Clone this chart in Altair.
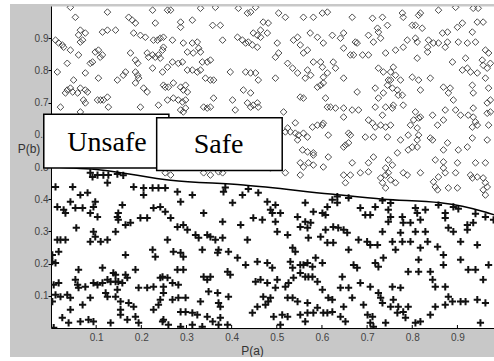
import altair as alt
import pandas as pd

# Open diamonds (upper region) as (P(a), P(b)) pairs
diamond_pts = [
    (0.043, 0.996), (0.054, 0.965), (0.125, 0.981), (0.172, 0.965), (0.180, 0.956), (0.187, 0.947),
    (0.225, 0.987), (0.231, 0.947), (0.258, 0.987), (0.065, 0.925), (0.061, 0.910), (0.076, 0.916),
    (0.070, 0.894), (0.065, 0.888), (0.114, 0.919), (0.125, 0.925), (0.143, 0.925), (0.183, 0.916),
    (0.198, 0.909), (0.209, 0.903), (0.227, 0.894), (0.236, 0.894), (0.242, 0.900), (0.010, 0.894),
    (0.017, 0.885), (0.025, 0.879), (0.028, 0.872), (0.043, 0.863), (0.098, 0.857), (0.105, 0.863),
    (0.061, 0.848), (0.176, 0.854), (0.213, 0.854), (0.216, 0.841), (0.225, 0.848), (0.231, 0.841),
    (0.238, 0.848), (0.242, 0.838), (0.249, 0.872), (0.247, 0.863), (0.036, 0.822), (0.087, 0.822),
    (0.092, 0.826), (0.109, 0.841), (0.114, 0.848), (0.187, 0.832), (0.192, 0.822), (0.225, 0.807),
    (0.247, 0.795), (0.014, 0.795), (0.076, 0.792), (0.050, 0.770), (0.147, 0.770), (0.165, 0.795),
    (0.160, 0.785), (0.187, 0.795), (0.192, 0.785), (0.194, 0.776), (0.187, 0.761), (0.036, 0.739),
    (0.032, 0.730), (0.043, 0.745), (0.048, 0.733), (0.059, 0.730), (0.065, 0.745), (0.076, 0.739),
    (0.081, 0.733), (0.105, 0.776), (0.205, 0.745), (0.213, 0.733), (0.253, 0.748), (0.072, 0.708),
    (0.076, 0.699), (0.103, 0.708), (0.110, 0.708), (0.116, 0.708), (0.125, 0.717), (0.021, 0.686),
    (0.127, 0.686), (0.198, 0.686), (0.238, 0.692), (0.065, 0.671),
    (0.265, 0.987), (0.287, 0.950), (0.287, 0.934), (0.313, 0.956), (0.331, 0.993), (0.358, 0.940),
    (0.375, 0.940), (0.364, 0.996), (0.415, 0.993), (0.435, 0.978), (0.442, 0.981), (0.453, 0.996),
    (0.470, 0.950), (0.481, 0.947), (0.464, 0.925), (0.479, 0.916), (0.504, 0.978), (0.519, 0.965),
    (0.559, 0.965), (0.581, 0.965), (0.601, 0.978), (0.612, 0.981), (0.546, 0.903), (0.574, 0.916),
    (0.590, 0.903), (0.603, 0.885), (0.249, 0.903), (0.269, 0.894), (0.293, 0.885), (0.302, 0.857),
    (0.313, 0.885), (0.324, 0.888), (0.327, 0.869), (0.315, 0.854), (0.331, 0.857), (0.380, 0.894),
    (0.413, 0.903), (0.424, 0.894), (0.431, 0.885), (0.437, 0.888), (0.448, 0.916), (0.457, 0.909),
    (0.464, 0.903), (0.446, 0.879), (0.457, 0.872), (0.501, 0.885), (0.504, 0.854), (0.497, 0.841),
    (0.537, 0.894), (0.552, 0.879), (0.559, 0.854), (0.568, 0.863), (0.597, 0.826), (0.581, 0.826),
    (0.601, 0.810), (0.258, 0.810), (0.269, 0.826), (0.282, 0.822), (0.291, 0.826), (0.302, 0.801),
    (0.313, 0.801), (0.324, 0.795), (0.331, 0.801), (0.335, 0.826), (0.346, 0.826), (0.353, 0.832),
    (0.360, 0.770), (0.397, 0.795), (0.431, 0.795), (0.442, 0.792), (0.453, 0.792), (0.524, 0.822),
    (0.535, 0.807), (0.546, 0.792), (0.563, 0.776), (0.568, 0.801), (0.575, 0.785), (0.603, 0.779),
    (0.612, 0.792), (0.249, 0.754), (0.260, 0.748), (0.271, 0.761), (0.287, 0.748), (0.293, 0.739),
    (0.302, 0.733), (0.298, 0.754), (0.342, 0.776), (0.353, 0.770), (0.426, 0.739), (0.442, 0.730),
    (0.459, 0.770), (0.497, 0.776), (0.552, 0.717), (0.559, 0.714), (0.590, 0.748), (0.597, 0.754),
    (0.603, 0.761), (0.612, 0.686), (0.608, 0.714), (0.258, 0.708), (0.271, 0.714), (0.282, 0.708),
    (0.291, 0.702), (0.298, 0.708), (0.298, 0.683), (0.293, 0.671), (0.287, 0.677), (0.338, 0.686),
    (0.346, 0.683), (0.353, 0.686), (0.360, 0.714), (0.402, 0.708), (0.408, 0.677), (0.435, 0.699),
    (0.442, 0.686), (0.448, 0.692), (0.457, 0.699), (0.459, 0.686), (0.515, 0.671), (0.519, 0.609),
    (0.530, 0.609), (0.541, 0.605), (0.548, 0.599), (0.559, 0.605), (0.568, 0.593), (0.579, 0.624),
    (0.590, 0.630), (0.601, 0.630), (0.546, 0.584), (0.557, 0.553), (0.568, 0.547), (0.581, 0.544),
    (0.541, 0.637), (0.524, 0.621), (0.581, 0.537), (0.570, 0.513), (0.581, 0.506), (0.552, 0.513),
    (0.559, 0.500), (0.603, 0.500), (0.253, 0.482), (0.265, 0.475), (0.338, 0.482), (0.353, 0.475),
    (0.371, 0.485), (0.380, 0.482), (0.486, 0.497), (0.552, 0.475), (0.519, 0.482),
    (0.667, 0.965), (0.712, 0.962), (0.734, 0.965), (0.778, 0.978), (0.780, 0.965), (0.814, 0.971),
    (0.818, 0.978), (0.858, 0.987), (0.896, 0.996), (0.935, 0.993), (0.946, 0.993), (0.944, 0.950),
    (0.957, 0.950), (0.623, 0.909), (0.641, 0.900), (0.648, 0.916), (0.674, 0.888), (0.678, 0.885),
    (0.703, 0.909), (0.714, 0.888), (0.723, 0.931), (0.725, 0.919), (0.730, 0.900), (0.745, 0.940),
    (0.648, 0.869), (0.663, 0.848), (0.670, 0.848), (0.690, 0.848), (0.703, 0.848), (0.741, 0.854),
    (0.763, 0.863), (0.780, 0.872), (0.800, 0.940), (0.807, 0.940), (0.822, 0.931), (0.789, 0.894),
    (0.807, 0.900), (0.811, 0.888), (0.834, 0.872), (0.836, 0.894), (0.847, 0.885), (0.858, 0.885),
    (0.873, 0.872), (0.878, 0.888), (0.867, 0.916), (0.878, 0.919), (0.900, 0.934), (0.911, 0.947),
    (0.933, 0.919), (0.902, 0.888), (0.922, 0.885), (0.940, 0.888), (0.962, 0.863), (0.969, 0.854),
    (0.811, 0.838), (0.834, 0.857), (0.889, 0.826), (0.918, 0.838), (0.955, 0.832), (0.625, 0.826),
    (0.630, 0.807), (0.648, 0.776), (0.678, 0.733), (0.718, 0.745), (0.736, 0.730), (0.725, 0.714),
    (0.745, 0.754), (0.747, 0.770), (0.725, 0.807), (0.736, 0.795), (0.752, 0.795), (0.758, 0.810),
    (0.763, 0.785), (0.752, 0.770), (0.756, 0.745), (0.767, 0.739), (0.769, 0.723), (0.778, 0.723),
    (0.774, 0.770), (0.800, 0.779), (0.814, 0.770), (0.818, 0.739), (0.840, 0.776), (0.869, 0.748),
    (0.884, 0.745), (0.880, 0.730), (0.891, 0.708), (0.911, 0.801), (0.922, 0.807), (0.929, 0.795),
    (0.957, 0.816), (0.966, 0.807), (0.973, 0.822), (0.944, 0.792), (0.962, 0.776), (0.933, 0.754),
    (0.935, 0.730), (0.969, 0.745), (0.966, 0.699), (0.973, 0.708), (0.619, 0.686), (0.630, 0.683),
    (0.648, 0.683), (0.648, 0.655), (0.667, 0.677), (0.681, 0.677), (0.603, 0.636), (0.614, 0.599),
    (0.703, 0.646), (0.712, 0.636), (0.718, 0.624), (0.730, 0.630), (0.741, 0.624), (0.752, 0.630),
    (0.734, 0.661), (0.718, 0.686), (0.741, 0.686), (0.756, 0.683), (0.758, 0.692), (0.780, 0.692),
    (0.807, 0.671), (0.814, 0.652), (0.818, 0.655), (0.803, 0.646), (0.845, 0.661), (0.869, 0.646),
    (0.856, 0.630), (0.796, 0.630), (0.811, 0.621), (0.791, 0.599), (0.873, 0.677), (0.896, 0.677),
    (0.907, 0.661), (0.924, 0.661), (0.935, 0.683), (0.935, 0.655), (0.940, 0.640), (0.933, 0.624),
    (0.944, 0.630), (0.966, 0.667), (0.973, 0.671), (0.969, 0.630), (0.659, 0.605), (0.663, 0.599),
    (0.659, 0.575), (0.648, 0.562), (0.652, 0.568), (0.696, 0.593), (0.714, 0.593), (0.745, 0.593),
    (0.774, 0.584), (0.814, 0.599), (0.811, 0.584), (0.845, 0.584), (0.840, 0.590), (0.878, 0.575),
    (0.869, 0.553), (0.902, 0.553), (0.922, 0.562), (0.933, 0.590), (0.966, 0.584), (0.851, 0.522),
    (0.869, 0.516), (0.900, 0.513), (0.940, 0.513), (0.962, 0.513), (0.614, 0.531), (0.667, 0.513),
    (0.714, 0.531), (0.703, 0.513), (0.747, 0.522), (0.756, 0.506), (0.791, 0.553), (0.800, 0.562),
    (0.811, 0.562), (0.767, 0.544), (0.685, 0.482), (0.703, 0.485), (0.741, 0.497), (0.747, 0.482),
    (0.780, 0.482), (0.818, 0.482), (0.869, 0.497), (0.873, 0.482), (0.896, 0.482), (0.648, 0.475),
    (0.663, 0.475), (0.929, 0.475), (0.944, 0.469), (0.652, 0.451), (0.730, 0.466), (0.734, 0.451),
    (0.741, 0.475), (0.752, 0.460), (0.763, 0.451), (0.789, 0.475), (0.847, 0.454), (0.851, 0.438),
    (0.856, 0.429), (0.858, 0.469), (0.880, 0.435), (0.900, 0.435), (0.933, 0.466), (0.957, 0.466),
    (0.962, 0.451), (0.957, 0.429), (0.962, 0.413), (0.966, 0.438), (0.741, 0.435),
]

# Plus markers (lower region) as (P(a), P(b)) pairs
plus_pts = [
    (0.010, 0.438), (0.048, 0.438), (0.065, 0.413), (0.081, 0.420), (0.087, 0.482), (0.092, 0.469),
    (0.103, 0.475), (0.116, 0.475), (0.127, 0.475), (0.125, 0.451), (0.147, 0.478), (0.160, 0.474),
    (0.183, 0.438), (0.205, 0.435), (0.205, 0.413), (0.225, 0.435), (0.238, 0.435), (0.253, 0.435),
    (0.014, 0.376), (0.028, 0.367), (0.032, 0.357), (0.043, 0.392), (0.054, 0.373), (0.070, 0.373),
    (0.087, 0.357), (0.094, 0.376), (0.098, 0.392), (0.103, 0.345), (0.147, 0.345), (0.149, 0.357),
    (0.158, 0.382), (0.198, 0.342), (0.213, 0.342), (0.176, 0.327), (0.149, 0.336), (0.227, 0.373),
    (0.242, 0.376), (0.253, 0.361), (0.056, 0.311), (0.014, 0.274), (0.021, 0.274), (0.032, 0.274),
    (0.094, 0.299), (0.098, 0.283), (0.087, 0.268), (0.110, 0.268), (0.125, 0.274), (0.143, 0.299),
    (0.165, 0.320), (0.258, 0.274), (0.003, 0.227), (0.017, 0.237), (0.003, 0.206), (0.010, 0.202),
    (0.061, 0.181), (0.114, 0.187), (0.138, 0.171), (0.143, 0.165), (0.165, 0.227), (0.225, 0.243),
    (0.231, 0.221), (0.187, 0.181), (0.006, 0.134), (0.017, 0.140), (0.054, 0.150), (0.059, 0.134),
    (0.061, 0.125), (0.076, 0.128), (0.094, 0.140), (0.103, 0.134), (0.114, 0.140), (0.125, 0.150),
    (0.132, 0.144), (0.143, 0.144), (0.149, 0.144), (0.158, 0.140), (0.165, 0.165), (0.169, 0.156),
    (0.194, 0.125), (0.213, 0.125), (0.227, 0.128), (0.242, 0.156), (0.249, 0.128), (0.010, 0.103),
    (0.021, 0.097), (0.036, 0.103), (0.043, 0.094), (0.070, 0.072), (0.087, 0.094), (0.121, 0.109),
    (0.125, 0.097), (0.143, 0.097), (0.147, 0.119), (0.172, 0.078), (0.154, 0.082), (0.183, 0.066),
    (0.242, 0.088), (0.238, 0.072), (0.227, 0.057), (0.003, 0.082), (0.025, 0.032), (0.039, 0.016),
    (0.065, 0.020), (0.083, 0.026), (0.094, 0.020), (0.132, 0.016), (0.154, 0.041), (0.154, 0.057),
    (0.169, 0.026), (0.187, 0.035), (0.194, 0.016), (0.247, 0.020), (0.006, 0.001), (0.043, 0.057),
    (0.280, 0.423), (0.313, 0.413), (0.287, 0.392), (0.338, 0.357), (0.382, 0.423), (0.386, 0.436),
    (0.424, 0.413), (0.437, 0.432), (0.459, 0.420), (0.479, 0.392), (0.486, 0.367), (0.490, 0.357),
    (0.497, 0.382), (0.402, 0.389), (0.380, 0.330), (0.420, 0.320), (0.448, 0.342), (0.468, 0.336),
    (0.497, 0.330), (0.508, 0.357), (0.546, 0.345), (0.563, 0.330), (0.575, 0.327), (0.581, 0.361),
    (0.601, 0.357), (0.563, 0.389), (0.265, 0.342), (0.280, 0.314), (0.293, 0.320), (0.302, 0.305),
    (0.320, 0.289), (0.346, 0.289), (0.353, 0.283), (0.327, 0.280), (0.364, 0.274), (0.380, 0.280),
    (0.435, 0.274), (0.501, 0.299), (0.524, 0.289), (0.552, 0.314), (0.568, 0.311), (0.570, 0.280),
    (0.597, 0.283), (0.271, 0.237), (0.287, 0.234), (0.293, 0.221), (0.335, 0.243), (0.371, 0.243),
    (0.369, 0.234), (0.393, 0.237), (0.413, 0.218), (0.431, 0.196), (0.457, 0.206), (0.479, 0.202),
    (0.490, 0.187), (0.535, 0.249), (0.541, 0.237), (0.530, 0.206), (0.535, 0.187), (0.552, 0.196),
    (0.559, 0.196), (0.568, 0.202), (0.579, 0.190), (0.586, 0.218), (0.552, 0.171), (0.563, 0.159),
    (0.570, 0.159), (0.579, 0.159), (0.247, 0.159), (0.258, 0.156), (0.280, 0.181), (0.293, 0.181),
    (0.269, 0.140), (0.282, 0.134), (0.338, 0.159), (0.346, 0.150), (0.353, 0.159), (0.349, 0.113),
    (0.391, 0.175), (0.397, 0.165), (0.453, 0.144), (0.464, 0.150), (0.479, 0.140), (0.501, 0.150),
    (0.497, 0.125), (0.486, 0.094), (0.470, 0.097), (0.519, 0.128), (0.526, 0.140), (0.537, 0.156),
    (0.590, 0.144), (0.601, 0.119), (0.249, 0.109), (0.269, 0.088), (0.282, 0.094), (0.298, 0.094),
    (0.331, 0.082), (0.369, 0.109), (0.371, 0.078), (0.375, 0.066), (0.393, 0.097), (0.446, 0.047),
    (0.457, 0.066), (0.475, 0.072), (0.481, 0.082), (0.524, 0.094), (0.535, 0.094), (0.546, 0.082),
    (0.568, 0.078), (0.590, 0.063), (0.603, 0.047), (0.287, 0.050), (0.298, 0.050), (0.313, 0.047),
    (0.324, 0.041), (0.346, 0.035), (0.358, 0.020), (0.371, 0.010), (0.375, 0.032), (0.249, 0.026),
    (0.260, 0.010), (0.287, 0.004), (0.313, 0.010), (0.335, 0.004), (0.493, 0.035), (0.512, 0.041),
    (0.508, 0.010), (0.524, 0.035), (0.552, 0.041), (0.568, 0.047), (0.581, 0.047), (0.612, 0.047),
    (0.563, 0.020), (0.391, 0.010),
    (0.634, 0.408), (0.659, 0.404), (0.623, 0.398), (0.634, 0.389), (0.612, 0.376), (0.608, 0.351),
    (0.734, 0.396), (0.752, 0.388), (0.685, 0.373), (0.696, 0.351), (0.707, 0.351), (0.718, 0.376),
    (0.747, 0.367), (0.752, 0.345), (0.747, 0.330), (0.778, 0.345), (0.780, 0.327), (0.807, 0.373),
    (0.811, 0.357), (0.818, 0.336), (0.829, 0.367), (0.858, 0.382), (0.873, 0.357), (0.891, 0.376),
    (0.902, 0.370), (0.922, 0.320), (0.922, 0.305), (0.935, 0.327), (0.873, 0.342), (0.880, 0.311),
    (0.891, 0.299), (0.907, 0.268), (0.944, 0.258), (0.940, 0.355), (0.962, 0.345), (0.980, 0.336),
    (0.774, 0.296), (0.796, 0.327), (0.807, 0.299), (0.829, 0.299), (0.734, 0.299), (0.756, 0.268),
    (0.778, 0.268), (0.796, 0.268), (0.608, 0.305), (0.625, 0.314), (0.636, 0.311), (0.648, 0.305),
    (0.656, 0.296), (0.612, 0.265), (0.625, 0.265), (0.659, 0.243), (0.681, 0.274), (0.700, 0.268),
    (0.707, 0.258), (0.723, 0.258), (0.763, 0.243), (0.818, 0.249), (0.834, 0.268), (0.856, 0.252),
    (0.869, 0.227), (0.907, 0.212), (0.924, 0.181), (0.940, 0.181), (0.957, 0.150), (0.969, 0.196),
    (0.601, 0.202), (0.670, 0.196), (0.678, 0.187), (0.718, 0.202), (0.725, 0.190), (0.736, 0.218),
    (0.791, 0.175), (0.814, 0.175), (0.814, 0.212), (0.840, 0.175), (0.845, 0.150), (0.851, 0.128),
    (0.873, 0.128), (0.869, 0.196), (0.645, 0.159), (0.641, 0.125), (0.659, 0.125), (0.685, 0.140),
    (0.707, 0.128), (0.756, 0.128), (0.774, 0.125), (0.758, 0.088), (0.614, 0.094), (0.623, 0.088),
    (0.667, 0.094), (0.692, 0.072), (0.725, 0.109), (0.730, 0.094), (0.734, 0.078), (0.752, 0.066),
    (0.769, 0.066), (0.780, 0.050), (0.791, 0.066), (0.880, 0.097), (0.889, 0.082), (0.907, 0.082),
    (0.918, 0.082), (0.944, 0.088), (0.962, 0.078), (0.851, 0.066), (0.873, 0.072), (0.623, 0.050),
    (0.648, 0.066), (0.641, 0.035), (0.652, 0.020), (0.701, 0.041), (0.712, 0.035), (0.707, 0.016),
    (0.714, 0.004), (0.741, 0.016), (0.767, 0.047), (0.785, 0.032), (0.807, 0.016), (0.818, 0.020),
    (0.840, 0.041), (0.951, 0.016),
]

# Separating boundary
boundary_x = [0.0, 0.11, 0.265, 0.426, 0.619, 0.736, 0.862, 0.957, 0.982]
boundary_y = [0.500, 0.491, 0.459, 0.444, 0.416, 0.400, 0.389, 0.362, 0.351]

# Annotation boxes and their labels
box_labels = ["Unsafe", "Safe"]
box_x0 = [-0.016, 0.234]
box_x1 = [0.261, 0.512]
box_y0 = [0.497, 0.489]
box_y1 = [0.664, 0.653]
label_x = [0.124, 0.371]
label_y = [0.550, 0.543]

tick_values = [0.1, 0.2, 0.3, 0.4, 0.5, 0.6, 0.7, 0.8, 0.9]

PLOT_W, PLOT_H = 443, 322
x_scale = alt.Scale(domain=[0, 0.981], nice=False, zero=False)
y_scale = alt.Scale(domain=[0, 1], nice=False, zero=False)

diamonds = pd.DataFrame(diamond_pts, columns=["a", "b"])
pluses = pd.DataFrame(plus_pts, columns=["a", "b"])
boundary = pd.DataFrame({"a": boundary_x, "b": boundary_y})
boxes = pd.DataFrame({"label": box_labels, "x0": box_x0, "x1": box_x1,
                      "y0": box_y0, "y1": box_y1, "lx": label_x, "ly": label_y})
ticks = pd.DataFrame({"v": tick_values})

x_axis = alt.Axis(values=tick_values, format=".1f", grid=False, ticks=False,
                  labelPadding=4, title="P(a)", titleX=201, titleY=22,
                  titleAlign="center", titleBaseline="middle")
y_axis = alt.Axis(values=tick_values, format=".1f", grid=False, tickSize=3,
                  labelPadding=0, title="P(b)", titleAngle=0,
                  titleX=-22.5, titleY=142, titleAlign="center", titleBaseline="middle")

diamond_layer = alt.Chart(diamonds).mark_point(
    shape="diamond", filled=False, size=44, color="#4d4d4d", strokeWidth=1, opacity=1, clip=True
).encode(
    x=alt.X("a:Q", scale=x_scale, axis=x_axis),
    y=alt.Y("b:Q", scale=y_scale, axis=y_axis),
)

plus_layer = alt.Chart(pluses).mark_point(
    shape="M-1,0L1,0M0,-1L0,1", filled=False, size=52, color="#111",
    strokeWidth=2, opacity=1, clip=True
).encode(
    x=alt.X("a:Q", scale=x_scale),
    y=alt.Y("b:Q", scale=y_scale),
)

line_layer = alt.Chart(boundary).mark_line(
    color="black", strokeWidth=1.5, interpolate="monotone", clip=True
).encode(
    x=alt.X("a:Q", scale=x_scale),
    y=alt.Y("b:Q", scale=y_scale),
)

# inward ticks along the bottom axis
tick_layer = alt.Chart(ticks).mark_rule(color="black", strokeWidth=1).encode(
    x=alt.X("v:Q", scale=x_scale),
    y=alt.value(PLOT_H),
    y2=alt.value(PLOT_H - 3),
)

box_layer = alt.Chart(boxes).mark_rect(
    fill="white", stroke="black", strokeWidth=1.5, clip=False
).encode(
    x=alt.X("x0:Q", scale=x_scale),
    x2="x1:Q",
    y=alt.Y("y1:Q", scale=y_scale),
    y2="y0:Q",
)

text_layer = alt.Chart(boxes).mark_text(
    font="Liberation Serif", fontSize=28, color="black", align="center",
    baseline="alphabetic", clip=False
).encode(
    x=alt.X("lx:Q", scale=x_scale),
    y=alt.Y("ly:Q", scale=y_scale),
    text="label:N",
)

# white page margin around the grey frame (left, top and bottom strips)
margin_left = alt.Chart(ticks).mark_rect(color="white", clip=False).encode(
    x=alt.value(-51), x2=alt.value(-41), y=alt.value(-6), y2=alt.value(PLOT_H + 33)
)
margin_top = alt.Chart(ticks).mark_rect(color="white", clip=False).encode(
    x=alt.value(-51), x2=alt.value(PLOT_W), y=alt.value(-6), y2=alt.value(-2)
)
margin_bottom = alt.Chart(ticks).mark_rect(color="white", clip=False).encode(
    x=alt.value(-51), x2=alt.value(PLOT_W), y=alt.value(PLOT_H + 29), y2=alt.value(PLOT_H + 33)
)

chart = alt.layer(
    diamond_layer, plus_layer, line_layer, tick_layer, box_layer, text_layer,
    margin_left, margin_top, margin_bottom,
).properties(
    width=PLOT_W,
    height=PLOT_H,
    autosize=alt.AutoSizeParams(type="none"),
    padding={"left": 51, "top": 6, "right": 0, "bottom": 33},
    background="#c8c8c8",
).configure_view(
    fill="white",
    stroke="transparent",
).configure_axis(
    labelFont="Liberation Sans",
    labelFontSize=10,
    labelColor="#444",
    domainColor="black",
    domainWidth=1,
    tickColor="black",
    titleFont="Liberation Sans",
    titleFontSize=12,
    titleFontWeight="normal",
    titleColor="#333",
)

chart.save("out.html", embed_options={"renderer": "svg", "actions": False})
